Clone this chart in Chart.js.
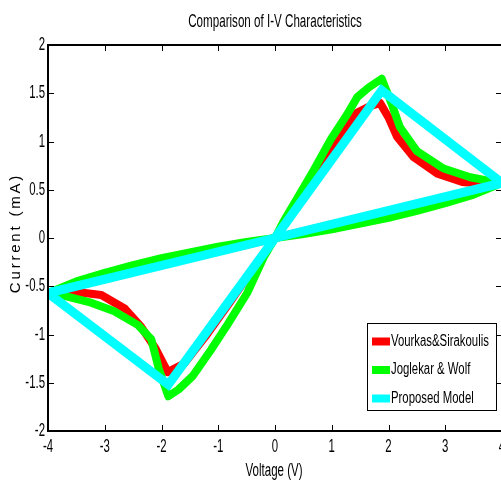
<!DOCTYPE html>
<html><head><meta charset="utf-8">
<script src="https://cdn.jsdelivr.net/npm/chart.js@4.4.0/dist/chart.umd.min.js"></script>
<style>html,body{margin:0;padding:0;background:#fff;overflow:hidden;width:501px;height:481px}
#wrap{position:absolute;left:0;top:0;width:502px;height:481px}</style>
</head><body><div id="wrap"><canvas id="c" width="502" height="481"></canvas></div>
<script>
// ---- data ----
const xTicks = [-4, -3, -2, -1, 0, 1, 2, 3, 4];
const yTicks = [-2, -1.5, -1, -0.5, 0, 0.5, 1, 1.5, 2];
const chartTitle = 'Comparison of I-V Characteristics';
const xTitle = 'Voltage (V)';
const yTitle = 'Current (mA)';
const seriesNames = ['Vourkas&Sirakoulis', 'Joglekar & Wolf', 'Proposed Model'];
const seriesColors = ['#ff0000', '#00ff00', '#00ffff'];

const vourkasV = [0, 0.3, 0.6, 0.8, 1.1, 1.45, 1.65, 1.85, 2.0, 2.15, 2.44, 2.85, 3.3, 3.7, 4.0, 2.0, 0, -2.0, -4.0, -3.5, -3.06, -2.65, -2.36, -2.1, -1.89, -1.6, -1.2, -0.8, -0.4, 0];
const vourkasI = [0, 0.27, 0.55, 0.76, 1.03, 1.3, 1.36, 1.40, 1.25, 1.05, 0.84, 0.67, 0.58, 0.56, 0.57, 0.28, 0, -0.28, -0.57, -0.56, -0.59, -0.73, -0.92, -1.15, -1.39, -1.3, -1.0, -0.67, -0.33, 0];

const joglekarV = [0, 0.15, 0.4, 0.68, 0.98, 1.27, 1.45, 1.65, 1.88, 2.05, 2.2, 2.5, 2.97, 3.44, 3.8, 4.0, 3.5, 3.0, 2.5, 2.0, 1.5, 1.0, 0.5, 0, -0.5, -1.0, -1.5, -2.0, -2.5, -3.0, -3.5, -4.0, -3.71, -3.24, -2.83, -2.42, -2.18, -2.05, -1.88, -1.7, -1.45, -1.13, -0.84, -0.49, -0.2, 0];
const joglekarI = [0, 0.17, 0.42, 0.7, 1.02, 1.28, 1.46, 1.56, 1.65, 1.4, 1.15, 0.9, 0.72, 0.63, 0.59, 0.57, 0.45, 0.36, 0.28, 0.21, 0.15, 0.09, 0.04, 0, -0.04, -0.09, -0.15, -0.21, -0.28, -0.36, -0.45, -0.57, -0.6, -0.67, -0.76, -0.9, -1.05, -1.35, -1.64, -1.57, -1.43, -1.16, -0.9, -0.57, -0.2, 0];

const proposedV = [0, 1.88, 4.0, 0, -4.0, -1.88, 0];
const proposedI = [0, 1.53, 0.57, 0, -0.57, -1.52, 0];

// ---- helpers ----
const toPts = (xs, ys) => xs.map((x, i) => ({x: x, y: ys[i]}));
const SANS = '"Liberation Sans", Arial, Helvetica, sans-serif';

function drawSqueezed(ctx, text, x, y, sx, align, font) {
  ctx.save();
  ctx.font = font;
  ctx.translate(x, y);
  ctx.scale(sx, 1);
  ctx.textAlign = align;
  ctx.textBaseline = 'middle';
  ctx.fillStyle = '#000';
  ctx.fillText(text, 0, 0);
  ctx.restore();
}

const framePlugin = {
  id: 'frame',
  afterDraw(chart) {
    const ctx = chart.ctx;
    const a = chart.chartArea;
    const xs = chart.scales.x, ys = chart.scales.y;
    ctx.save();
    ctx.strokeStyle = '#000';
    ctx.lineWidth = 1;
    const tl = 6;
    ctx.beginPath();
    xs.ticks.forEach(t => {
      const px = Math.round(xs.getPixelForValue(t.value)) + 0.5;
      ctx.moveTo(px, a.bottom); ctx.lineTo(px, a.bottom - tl);
      ctx.moveTo(px, a.top); ctx.lineTo(px, a.top + tl);
    });
    ys.ticks.forEach(t => {
      const py = Math.round(ys.getPixelForValue(t.value)) + 0.5;
      ctx.moveTo(a.left, py); ctx.lineTo(a.left + tl, py);
      ctx.moveTo(a.right, py); ctx.lineTo(a.right - tl, py);
    });
    ctx.stroke();
    ctx.lineWidth = 2;
    ctx.strokeRect(a.left, a.top, a.right - a.left, a.bottom - a.top);

    // tick labels (from the library's scales)
    xs.ticks.forEach(t => {
      drawSqueezed(ctx, String(t.value), xs.getPixelForValue(t.value), a.bottom + 16, 0.6, 'center', '19px ' + SANS);
    });
    ys.ticks.forEach(t => {
      drawSqueezed(ctx, String(t.value), a.left - 3, ys.getPixelForValue(t.value), 0.6, 'right', '19px ' + SANS);
    });

    // title
    drawSqueezed(ctx, chartTitle, (a.left + a.right) / 2, 22, 0.645, 'center', '18px ' + SANS);
    // x title
    drawSqueezed(ctx, xTitle, (a.left + a.right) / 2 - 1, 471, 0.64, 'center', '18px ' + SANS);
    // y title
    ctx.save();
    ctx.translate(16, (a.top + a.bottom) / 2 - 5);
    ctx.rotate(-Math.PI / 2);
    ctx.font = '15px ' + SANS;
    ctx.letterSpacing = '2.8px';
    ctx.textAlign = 'center';
    ctx.textBaseline = 'middle';
    ctx.fillStyle = '#000';
    ctx.fillText(yTitle, 0, 0);
    ctx.restore();

    // legend
    const lx = 367, ly = 323, lw = 129, lh = 87;
    ctx.fillStyle = '#fff';
    ctx.fillRect(lx, ly, lw, lh);
    ctx.lineWidth = 1;
    ctx.strokeStyle = '#000';
    ctx.strokeRect(lx + 0.5, ly + 0.5, lw, lh);
    const rows = [341.5, 370, 398.5];
    seriesNames.forEach((n, i) => {
      ctx.fillStyle = seriesColors[i];
      ctx.fillRect(lx + 5, rows[i] - 4, 18, 8);
      drawSqueezed(ctx, n, lx + 24, rows[i], 0.71, 'left', '16px ' + SANS);
    });
    ctx.restore();
  }
};

new Chart(document.getElementById('c'), {
  type: 'scatter',
  data: {
    datasets: [
      {label: seriesNames[0], data: toPts(vourkasV, vourkasI), borderColor: seriesColors[0], backgroundColor: seriesColors[0], borderWidth: 8, showLine: true, pointRadius: 0, order: 2, borderJoinStyle: 'round', borderCapStyle: 'round', tension: 0},
      {label: seriesNames[1], data: toPts(joglekarV, joglekarI), borderColor: seriesColors[1], backgroundColor: seriesColors[1], borderWidth: 8, showLine: true, pointRadius: 0, order: 1, borderJoinStyle: 'round', borderCapStyle: 'round', tension: 0},
      {label: seriesNames[2], data: toPts(proposedV, proposedI), borderColor: seriesColors[2], backgroundColor: seriesColors[2], borderWidth: 9, showLine: true, pointRadius: 0, order: 0, borderJoinStyle: 'miter', tension: 0}
    ]
  },
  options: {
    responsive: false,
    animation: false,
    events: [],
    layout: {padding: {top: 45, right: 0, left: 0, bottom: 0}},
    plugins: {legend: {display: false}, title: {display: false}, tooltip: {enabled: false}},
    scales: {
      x: {
        type: 'linear', min: -4, max: 4,
        afterBuildTicks: s => { s.ticks = xTicks.map(v => ({value: v})); },
        afterFit: s => { s.height = 50; },
        grid: {display: false, drawTicks: false},
        border: {display: false},
        ticks: {display: false}
      },
      y: {
        type: 'linear', min: -2, max: 2,
        afterBuildTicks: s => { s.ticks = yTicks.map(v => ({value: v})); },
        afterFit: s => { s.width = 48; },
        grid: {display: false, drawTicks: false},
        border: {display: false},
        ticks: {display: false}
      }
    }
  },
  plugins: [framePlugin]
});
</script></body></html>
